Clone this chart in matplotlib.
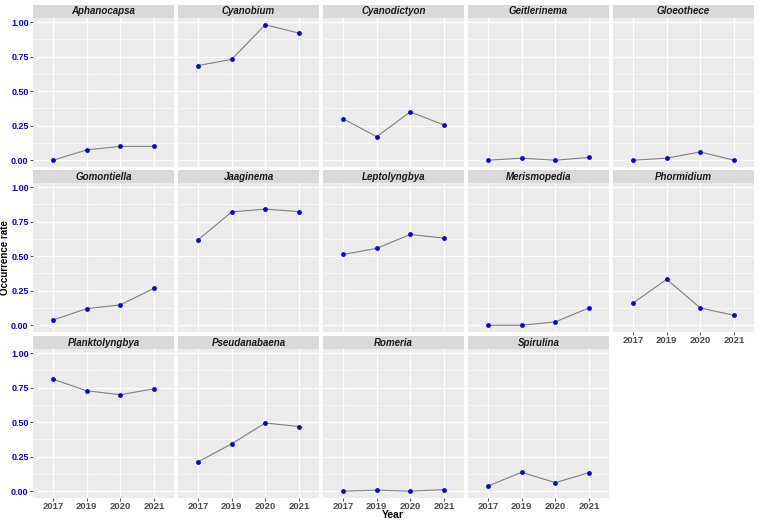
import matplotlib
matplotlib.use("Agg")
import matplotlib.pyplot as plt

plt.rcParams['font.family'] = ['Liberation Sans', 'DejaVu Sans']

years = ["2017", "2019", "2020", "2021"]
genera = ["Aphanocapsa", "Cyanobium", "Cyanodictyon", "Geitlerinema", "Gloeothece",
          "Gomontiella", "Jaaginema", "Leptolyngbya", "Merismopedia", "Phormidium",
          "Planktolyngbya", "Pseudanabaena", "Romeria", "Spirulina"]
aphanocapsa = [0.0, 0.075, 0.10, 0.10]
cyanobium = [0.685, 0.73, 0.98, 0.92]
cyanodictyon = [0.30, 0.17, 0.35, 0.255]
geitlerinema = [0.0, 0.015, 0.0, 0.02]
gloeothece = [0.0, 0.015, 0.06, 0.0]
gomontiella = [0.038, 0.12, 0.147, 0.267]
jaaginema = [0.618, 0.82, 0.84, 0.822]
leptolyngbya = [0.512, 0.556, 0.657, 0.63]
merismopedia = [0.0, 0.0, 0.024, 0.125]
phormidium = [0.161, 0.332, 0.125, 0.072]
planktolyngbya = [0.81, 0.727, 0.698, 0.741]
pseudanabaena = [0.213, 0.343, 0.494, 0.468]
romeria = [0.0, 0.008, 0.0, 0.012]
spirulina = [0.038, 0.137, 0.062, 0.134]

series = [aphanocapsa, cyanobium, cyanodictyon, geitlerinema, gloeothece,
          gomontiella, jaaginema, leptolyngbya, merismopedia, phormidium,
          planktolyngbya, pseudanabaena, romeria, spirulina]

W, H = 759, 524
fig = plt.figure(figsize=(W / 100, H / 100), dpi=100)

x0, pw, gap = 33, 141, 4
strip_h, ph = 13, 149
row_tops = [5, 170, 336]
xs = list(range(len(years)))

for i, (name, vals) in enumerate(zip(genera, series)):
    r, c = divmod(i, 5)
    left = x0 + c * (pw + gap)
    ptop = row_tops[r] + strip_h
    ax = fig.add_axes([left / W, 1 - (ptop + ph) / H, pw / W, ph / H])
    ax.set_facecolor("#EBEBEB")
    for s in ax.spines.values():
        s.set_visible(False)
    ax.set_xlim(-0.6, 3.6)
    ax.set_ylim(-0.049, 1.029)
    ax.set_yticks([0, 0.25, 0.5, 0.75, 1.0])
    ax.set_yticks([0.125, 0.375, 0.625, 0.875], minor=True)
    ax.set_xticks(xs)
    ax.grid(which="major", color="white", lw=0.9)
    ax.grid(which="minor", axis="y", color="white", lw=0.45)
    ax.set_axisbelow(True)
    ax.tick_params(which="minor", length=0)
    ax.tick_params(which="major", length=2, color="#333333", width=0.6, pad=1.2)
    if c == 0:
        ax.set_yticklabels(["0.00", "0.25", "0.50", "0.75", "1.00"],
                           color="blue", fontweight="bold", fontsize=6.5)
    else:
        ax.tick_params(axis="y", length=0, labelleft=False)
    if r == 2 or i == 9:
        ax.set_xticklabels(years, color="#4D4D4D", fontweight="bold", fontsize=6.8)
    else:
        ax.tick_params(axis="x", length=0, labelbottom=False)
    ax.plot(xs, vals, color="#808080", lw=0.8, zorder=2)
    ax.scatter(xs, vals, color="blue", s=12, zorder=3, linewidths=0)
    # strip
    sax = fig.add_axes([left / W, 1 - ptop / H, pw / W, strip_h / H])
    sax.set_facecolor("#D9D9D9")
    sax.set_xticks([])
    sax.set_yticks([])
    for s in sax.spines.values():
        s.set_visible(False)
    sax.text(0.5, 0.5, name, ha="center", va="center", fontsize=7,
             fontweight="bold", fontstyle="italic", color="#1A1A1A",
             transform=sax.transAxes)

fig.text(393 / W, 1 - 515 / H, "Year", ha="center", va="center",
         fontsize=7.5, fontweight="bold")
fig.text(5.5 / W, 1 - 258 / H, "Occurrence rate", ha="center", va="center",
         rotation=90, fontsize=7, fontweight="bold")

fig.savefig("out.png", dpi=100)
